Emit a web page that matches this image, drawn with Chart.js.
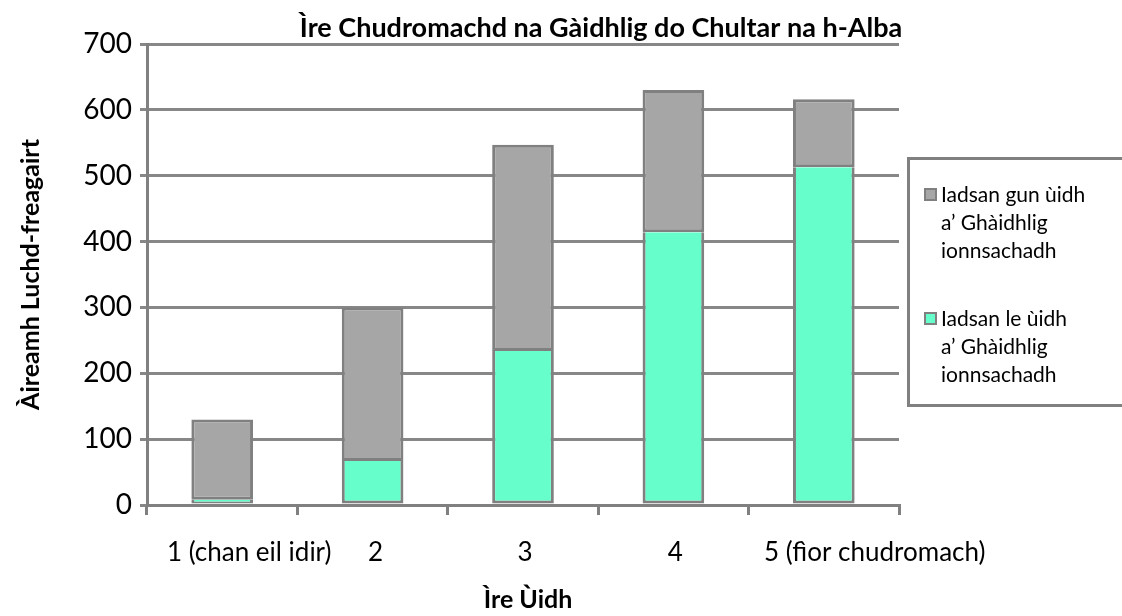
<!DOCTYPE html>
<html>
<head>
<meta charset="utf-8">
<script src="https://cdn.jsdelivr.net/npm/chart.js@4.4.1/dist/chart.umd.min.js"></script>
<style>
  html, body { margin: 0; padding: 0; background: #fff; }
  #wrap { position: relative; width: 1122px; height: 616px; overflow: hidden; }
  #legend {
    position: absolute; left: 907px; top: 157px; width: 240px; height: 250px;
    border: 3px solid #808080; box-sizing: border-box;
    font-family: Lato, "Open Sans", sans-serif; font-size: 21px; color: #000;
  }
  .item { position: absolute; left: 31px; line-height: 28px; white-space: nowrap; }
  .box { position: absolute; left: -17px; top: 8px; width: 9px; height: 9px; border: 2px solid #808080; }
</style>
</head>
<body>
<div id="wrap">
  <canvas id="barChart" width="1122" height="616"></canvas>
  <div id="legend"></div>
</div>
<script>
var categories = ['1 (chan eil idir)', '2', '3', '4', '5 (fìor chudromach)'];
var withInterest = [8, 67, 234, 414, 513];
var withoutInterest = [122, 233, 313, 216, 103];
var yTicks = [0, 100, 200, 300, 400, 500, 600, 700];
var labelWith = ['Iadsan le ùidh', 'a\u2019 Ghàidhlig', 'ionnsachadh'];
var labelWithout = ['Iadsan gun ùidh', 'a\u2019 Ghàidhlig', 'ionnsachadh'];

var grey = '#808080';
var font = 'Lato, "Open Sans", sans-serif';
// excel pushes the long category names off centre, copy that
var labelNudge = [27, 3, 2, 2, 51];

// html legend, grey series first like the original
var legendItems = [
  { lines: labelWithout, color: '#a6a6a6', top: 20 },
  { lines: labelWith, color: '#66ffcc', top: 144 }
];
var legendHtml = '';
legendItems.forEach(function (it) {
  legendHtml += '<div class="item" style="top:' + it.top + 'px"><span class="box" style="background:' + it.color + '"></span>' + it.lines.join('<br>') + '</div>';
});
document.getElementById('legend').innerHTML = legendHtml;

var textPlugin = {
  id: 'fixedText',
  afterDraw: function (chart) {
    var ctx = chart.ctx;
    var xs = chart.scales.x;
    ctx.save();
    ctx.fillStyle = '#000';
    ctx.font = 'bold 27px ' + font;
    ctx.textAlign = 'center';
    ctx.textBaseline = 'alphabetic';
    ctx.fillText('Ìre Chudromachd na Gàidhlig do Chultar na h-Alba', 601, 37);

    ctx.font = '26px ' + font;
    ctx.textBaseline = 'middle';
    categories.forEach(function (c, i) {
      ctx.fillText(c, xs.getPixelForTick(i) + labelNudge[i], 553);
    });

    ctx.font = 'bold 25px ' + font;
    ctx.fillText('Ìre Ùidh', 528, 600);
    ctx.restore();
  }
};

var ctx = document.getElementById('barChart').getContext('2d');
var barChart = new Chart(ctx, {
  type: 'bar',
  data: {
    labels: categories,
    datasets: [
      {
        label: labelWith.join(' '),
        data: withInterest,
        backgroundColor: '#66ffcc',
        borderColor: grey,
        borderWidth: { left: 3, right: 3, bottom: 3, top: 0 },
        borderSkipped: false
      },
      {
        label: labelWithout.join(' '),
        data: withoutInterest,
        backgroundColor: '#a6a6a6',
        borderColor: grey,
        borderWidth: 3,
        borderSkipped: false
      }
    ]
  },
  options: {
    responsive: false,
    animation: false,
    layout: { padding: { left: 0, top: 44, right: 223, bottom: 0 } },
    datasets: { bar: { barPercentage: 0.41, categoryPercentage: 1 } },
    plugins: {
      legend: { display: false },
      title: { display: false },
      tooltip: { enabled: false }
    },
    scales: {
      x: {
        stacked: true,
        grid: { offset: true, drawOnChartArea: false, drawTicks: true, tickLength: 10, color: grey, lineWidth: 3 },
        border: { color: grey, width: 3 },
        ticks: { display: false },
        title: { display: false },
        afterFit: function (scale) { scale.height = 111; }
      },
      y: {
        stacked: true,
        min: 0,
        max: 700,
        afterBuildTicks: function (scale) {
          scale.ticks = yTicks.map(function (v) { return { value: v }; });
        },
        grid: { color: '#878787', lineWidth: 3, tickLength: 7, drawTicks: true },
        border: { color: grey, width: 3 },
        ticks: { color: '#000', font: { family: font, size: 28 }, padding: 8 },
        title: { display: true, text: 'Àireamh Luchd-freagairt', color: '#000', font: { family: font, size: 25, weight: 'bold' }, padding: { top: 16, bottom: 10 } },
        afterFit: function (scale) { scale.width = 147; }
      }
    }
  },
  plugins: [textPlugin]
});
</script>
</body>
</html>
